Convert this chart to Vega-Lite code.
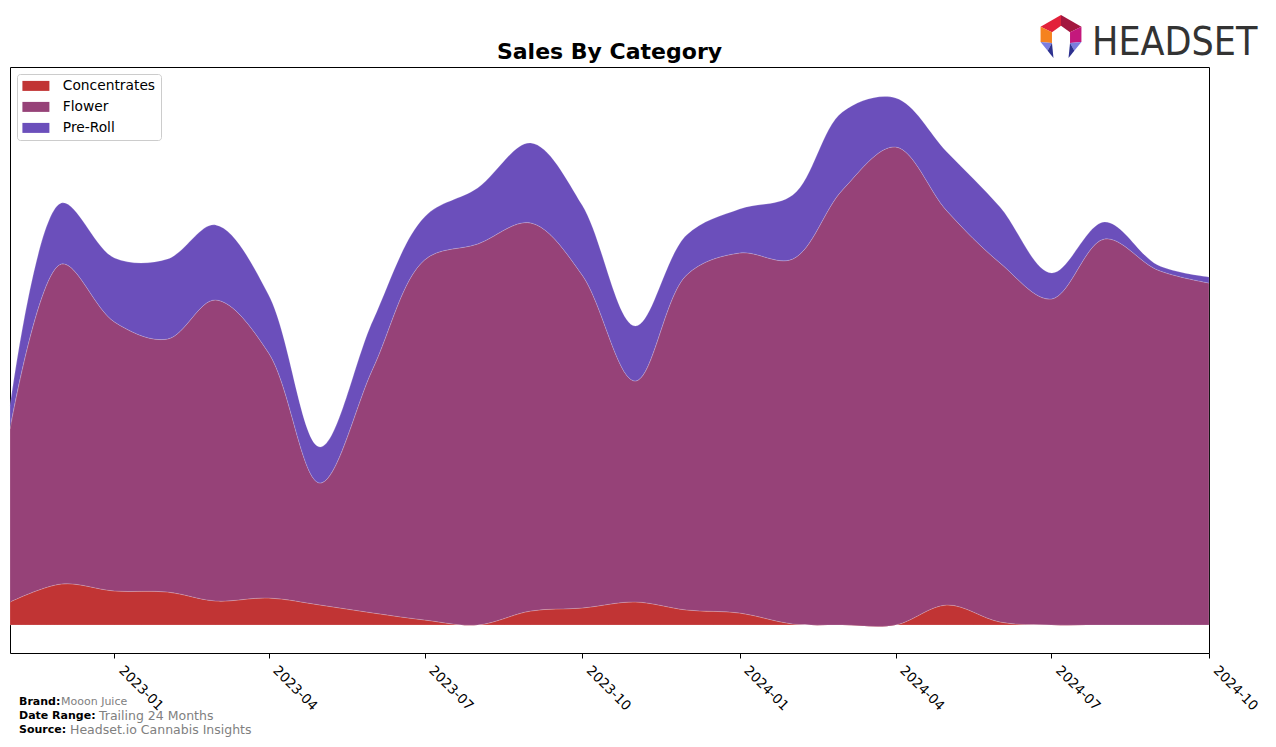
{
  "$schema": "https://vega.github.io/schema/vega-lite/v6.json",
  "width": 1199,
  "height": 586,
  "autosize": {"type": "none"},
  "padding": {"left": 10, "top": 67, "right": 67, "bottom": 94},
  "background": "white",
  "config": {"view": {"stroke": "black", "strokeWidth": 1}, "font": "DejaVu Sans"},
  "layer": [
    {
      "data": {"values": [
        {"month": "2022-11-01", "category": "Concentrates", "sales": 23}, {"month": "2022-11-01", "category": "Flower", "sales": 173}, {"month": "2022-11-01", "category": "Pre-Roll", "sales": 22},
        {"month": "2022-12-01", "category": "Concentrates", "sales": 41}, {"month": "2022-12-01", "category": "Flower", "sales": 320}, {"month": "2022-12-01", "category": "Pre-Roll", "sales": 61},
        {"month": "2023-01-01", "category": "Concentrates", "sales": 34}, {"month": "2023-01-01", "category": "Flower", "sales": 269}, {"month": "2023-01-01", "category": "Pre-Roll", "sales": 64},
        {"month": "2023-02-01", "category": "Concentrates", "sales": 33}, {"month": "2023-02-01", "category": "Flower", "sales": 253}, {"month": "2023-02-01", "category": "Pre-Roll", "sales": 80},
        {"month": "2023-03-01", "category": "Concentrates", "sales": 24}, {"month": "2023-03-01", "category": "Flower", "sales": 301}, {"month": "2023-03-01", "category": "Pre-Roll", "sales": 75},
        {"month": "2023-04-01", "category": "Concentrates", "sales": 27}, {"month": "2023-04-01", "category": "Flower", "sales": 245}, {"month": "2023-04-01", "category": "Pre-Roll", "sales": 58},
        {"month": "2023-05-01", "category": "Concentrates", "sales": 20}, {"month": "2023-05-01", "category": "Flower", "sales": 122}, {"month": "2023-05-01", "category": "Pre-Roll", "sales": 36},
        {"month": "2023-06-01", "category": "Concentrates", "sales": 12}, {"month": "2023-06-01", "category": "Flower", "sales": 245}, {"month": "2023-06-01", "category": "Pre-Roll", "sales": 48},
        {"month": "2023-07-01", "category": "Concentrates", "sales": 5}, {"month": "2023-07-01", "category": "Flower", "sales": 360}, {"month": "2023-07-01", "category": "Pre-Roll", "sales": 43},
        {"month": "2023-08-01", "category": "Concentrates", "sales": 0}, {"month": "2023-08-01", "category": "Flower", "sales": 381}, {"month": "2023-08-01", "category": "Pre-Roll", "sales": 56},
        {"month": "2023-09-01", "category": "Concentrates", "sales": 14}, {"month": "2023-09-01", "category": "Flower", "sales": 388}, {"month": "2023-09-01", "category": "Pre-Roll", "sales": 80},
        {"month": "2023-10-01", "category": "Concentrates", "sales": 17}, {"month": "2023-10-01", "category": "Flower", "sales": 333}, {"month": "2023-10-01", "category": "Pre-Roll", "sales": 70},
        {"month": "2023-11-01", "category": "Concentrates", "sales": 23}, {"month": "2023-11-01", "category": "Flower", "sales": 221}, {"month": "2023-11-01", "category": "Pre-Roll", "sales": 55},
        {"month": "2023-12-01", "category": "Concentrates", "sales": 15}, {"month": "2023-12-01", "category": "Flower", "sales": 335}, {"month": "2023-12-01", "category": "Pre-Roll", "sales": 40},
        {"month": "2024-01-01", "category": "Concentrates", "sales": 12}, {"month": "2024-01-01", "category": "Flower", "sales": 360}, {"month": "2024-01-01", "category": "Pre-Roll", "sales": 44},
        {"month": "2024-02-01", "category": "Concentrates", "sales": 1}, {"month": "2024-02-01", "category": "Flower", "sales": 365}, {"month": "2024-02-01", "category": "Pre-Roll", "sales": 64},
        {"month": "2024-03-01", "category": "Concentrates", "sales": 0}, {"month": "2024-03-01", "category": "Flower", "sales": 435}, {"month": "2024-03-01", "category": "Pre-Roll", "sales": 78},
        {"month": "2024-04-01", "category": "Concentrates", "sales": 0}, {"month": "2024-04-01", "category": "Flower", "sales": 478}, {"month": "2024-04-01", "category": "Pre-Roll", "sales": 49},
        {"month": "2024-05-01", "category": "Concentrates", "sales": 20}, {"month": "2024-05-01", "category": "Flower", "sales": 394}, {"month": "2024-05-01", "category": "Pre-Roll", "sales": 59},
        {"month": "2024-06-01", "category": "Concentrates", "sales": 3}, {"month": "2024-06-01", "category": "Flower", "sales": 359}, {"month": "2024-06-01", "category": "Pre-Roll", "sales": 56},
        {"month": "2024-07-01", "category": "Concentrates", "sales": 0}, {"month": "2024-07-01", "category": "Flower", "sales": 326}, {"month": "2024-07-01", "category": "Pre-Roll", "sales": 26},
        {"month": "2024-08-01", "category": "Concentrates", "sales": 0}, {"month": "2024-08-01", "category": "Flower", "sales": 386}, {"month": "2024-08-01", "category": "Pre-Roll", "sales": 17},
        {"month": "2024-09-01", "category": "Concentrates", "sales": 0}, {"month": "2024-09-01", "category": "Flower", "sales": 355}, {"month": "2024-09-01", "category": "Pre-Roll", "sales": 5},
        {"month": "2024-10-01", "category": "Concentrates", "sales": 0}, {"month": "2024-10-01", "category": "Flower", "sales": 342}, {"month": "2024-10-01", "category": "Pre-Roll", "sales": 6}
      ]},
      "mark": {"type": "area", "interpolate": "catmull-rom", "opacity": 1, "stroke": "white", "strokeWidth": 0.5, "strokeOpacity": 0.35},
      "encoding": {
        "x": {"field": "month", "type": "temporal",
          "scale": {"type": "utc", "domain": [{"year": 2022, "month": 11, "date": 1, "utc": true}, {"year": 2024, "month": 10, "date": 1, "utc": true}]},
          "axis": {"title": null, "format": "%Y-%m", "tickCount": {"interval": "month", "step": 3}, "labelAngle": 45, "labelAlign": "left", "labelBaseline": "middle", "labelFontSize": 13.5, "labelFont": "DejaVu Sans", "labelColor": "black", "tickColor": "black", "tickSize": 5, "domain": false, "grid": false, "labelPadding": 10, "labelOffset": 6, "labelFlush": false, "labelOverlap": false}},
        "y": {"field": "sales", "type": "quantitative", "stack": "zero", "scale": {"domain": [-28, 558], "nice": false, "zero": false}, "axis": null},
        "order": {"field": "category", "type": "nominal", "sort": "ascending"},
        "color": {"field": "category", "type": "nominal",
          "scale": {"domain": ["Concentrates", "Flower", "Pre-Roll"], "range": ["#c13434", "#964278", "#6b4fbb"]},
          "legend": {"title": null, "orient": "top-left", "offset": 7, "padding": 5, "strokeColor": "#cccccc", "fillColor": "white", "cornerRadius": 3, "symbolType": "M-2.7,-1L2.7,-1L2.7,1L-2.7,1Z", "symbolSize": 100, "symbolOffset": 7, "symbolStrokeWidth": 0, "symbolOpacity": 1, "labelOffset": 20, "labelFontSize": 13.8, "labelFont": "DejaVu Sans", "labelColor": "black", "rowPadding": 6}}
      }
    },
    {
      "data": {"values": [{"label": "Sales By Category"}]},
      "mark": {"type": "text", "align": "center", "baseline": "alphabetic", "fontWeight": "bold", "fontSize": 22, "font": "DejaVu Sans", "color": "black"},
      "encoding": {"x": {"value": 599.5}, "y": {"value": -8}, "text": {"field": "label"}}
    },
    {
      "data": {"values": [{"label": "Brand:"}]},
      "mark": {"type": "text", "align": "left", "baseline": "middle", "fontWeight": "bold", "fontSize": 11, "font": "DejaVu Sans", "color": "black"},
      "encoding": {"x": {"value": 9}, "y": {"value": 635}, "text": {"field": "label"}}
    },
    {
      "data": {"values": [{"label": "Mooon Juice"}]},
      "mark": {"type": "text", "align": "left", "baseline": "middle", "fontSize": 11, "font": "DejaVu Sans", "color": "#808080"},
      "encoding": {"x": {"value": 51}, "y": {"value": 635}, "text": {"field": "label"}}
    },
    {
      "data": {"values": [{"label": "Date Range:"}]},
      "mark": {"type": "text", "align": "left", "baseline": "middle", "fontWeight": "bold", "fontSize": 11, "font": "DejaVu Sans", "color": "black"},
      "encoding": {"x": {"value": 9}, "y": {"value": 649}, "text": {"field": "label"}}
    },
    {
      "data": {"values": [{"label": "Trailing 24 Months"}]},
      "mark": {"type": "text", "align": "left", "baseline": "middle", "fontSize": 12.5, "font": "DejaVu Sans", "color": "#808080"},
      "encoding": {"x": {"value": 89}, "y": {"value": 649}, "text": {"field": "label"}}
    },
    {
      "data": {"values": [{"label": "Source:"}]},
      "mark": {"type": "text", "align": "left", "baseline": "middle", "fontWeight": "bold", "fontSize": 11, "font": "DejaVu Sans", "color": "black"},
      "encoding": {"x": {"value": 9}, "y": {"value": 663}, "text": {"field": "label"}}
    },
    {
      "data": {"values": [{"label": "Headset.io Cannabis Insights"}]},
      "mark": {"type": "text", "align": "left", "baseline": "middle", "fontSize": 12.5, "font": "DejaVu Sans", "color": "#808080"},
      "encoding": {"x": {"value": 60}, "y": {"value": 663}, "text": {"field": "label"}}
    },
    {
      "data": {"values": [{"label": "HEADSET"}]},
      "mark": {"type": "text", "align": "left", "baseline": "alphabetic", "fontSize": 39, "font": "'Liberation Sans Narrow', 'DejaVu Sans Condensed', Roboto", "color": "#333333"},
      "encoding": {"x": {"value": 1082}, "y": {"value": -12}, "text": {"field": "label"}}
    },
    {
      "data": {"values": [
        {"piece": "a"}, {"piece": "b"}, {"piece": "c"}, {"piece": "d"}, {"piece": "e"}, {"piece": "f"}, {"piece": "g"}, {"piece": "h"}
      ]},
      "mark": {"type": "point", "filled": true, "opacity": 1, "strokeWidth": 0},
      "encoding": {
        "x": {"value": 1051},
        "y": {"value": -30.5},
        "size": {"value": 1849},
        "fill": {"field": "piece", "type": "nominal", "legend": null,
          "scale": {"domain": ["a", "b", "c", "d", "e", "f", "g", "h"], "range": ["#e2213a", "#a3173f", "#c4187c", "#f5821f", "#7a7ee0", "#2d318f", "#7a7ee0", "#2d318f"]}},
        "shape": {"field": "piece", "type": "nominal", "legend": null,
          "scale": {"domain": ["a", "b", "c", "d", "e", "f", "g", "h"], "range": [
            "M0,-1L-0.95,-0.45L-0.42,-0.2L0,-0.5Z",
            "M0,-1L0.95,-0.45L0.42,-0.2L0,-0.5Z",
            "M0.95,-0.45L0.95,0.25L0.42,0.3L0.42,-0.2Z",
            "M-0.95,-0.45L-0.42,-0.2L-0.42,0.3L-0.95,0.25Z",
            "M-0.95,0.25L-0.42,0.3L-0.62,0.66Z",
            "M-0.62,0.66L-0.42,0.3L-0.35,1Z",
            "M0.95,0.25L0.42,0.3L0.62,0.66Z",
            "M0.62,0.66L0.42,0.3L0.35,1Z"
          ]}}
      }
    }
  ]
}
